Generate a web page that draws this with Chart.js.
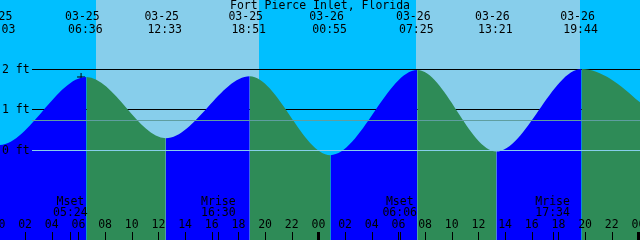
<!DOCTYPE html>
<html>
<head>
<meta charset="utf-8">
<script src="https://cdn.jsdelivr.net/npm/chart.js@4.4.1/dist/chart.umd.min.js"></script>
<style>
  html, body { margin: 0; padding: 0; background: #00BFFF; }
  #wrap { width: 640px; height: 240px; position: relative; }
</style>
</head>
<body>
<div id="wrap"><canvas id="tideChart"></canvas></div>
<script>
// tide extremes (first and last two are off the picture, they only shape the edges)
const title = 'Fort Pierce Inlet, Florida';
const tideTimes = ['03-24 17:50', '03-25 00:03', '03-25 06:36', '03-25 12:33', '03-25 18:51',
                   '03-26 00:55', '03-26 07:25', '03-26 13:21', '03-26 19:44', '03-27 06:00',
                   '03-27 12:00'];
const tideFeet = [1.78, 0.13, 1.81, 0.30, 1.83, -0.12, 1.98, -0.03, 2.01, -0.10, 1.90];
const labelFrom = 1, labelTo = 8;   // extremes that get a date/time label

const sunrise = ['03-25 07:19', '03-26 07:19'];
const sunset = ['03-25 19:33', '03-26 19:37'];

const moonNames = ['Mset', 'Mrise', 'Mset', 'Mrise'];
const moonTimes = ['03-25 05:24', '03-25 16:30', '03-26 06:06', '03-26 17:34'];

const hourLabels = ['00', '02', '04', '06', '08', '10', '12', '14', '16', '18', '20', '22',
                    '00', '02', '04', '06', '08', '10', '12', '14', '16', '18', '20', '22', '00'];

const levelLabels = ['2 ft', '1 ft', '0 ft'];
const levelFeet = [2, 1, 0];
const meanFeet = 0.74;
const nowMark = ['03-25 06:12', 1.81];

const FONT = '11.5px "DejaVu Sans Mono", monospace';

function toHours(s) {
  // 'MM-DD HH:MM' -> hours after 03-25 00:00
  const day = parseInt(s.slice(3, 5), 10) - 25;
  return day * 24 + parseInt(s.slice(6, 8), 10) + parseInt(s.slice(9, 11), 10) / 60;
}

const tidePoints = tideTimes.map((t, i) => ({ x: toHours(t), y: tideFeet[i] }));

function hLine(ctx, py, x0, x1, color) {
  ctx.strokeStyle = color;
  ctx.lineWidth = 1;
  ctx.beginPath();
  ctx.moveTo(x0, Math.floor(py) + 0.5);
  ctx.lineTo(x1, Math.floor(py) + 0.5);
  ctx.stroke();
}

const backdrop = {
  id: 'backdrop',
  beforeDraw(chart) {
    const { ctx, width, height } = chart;
    const { x, y } = chart.scales;
    ctx.save();
    ctx.fillStyle = '#00BFFF';
    ctx.fillRect(0, 0, width, height);
    ctx.fillStyle = '#87CEEB';
    sunrise.forEach((r, i) => {
      const a = Math.round(x.getPixelForValue(toHours(r)));
      const b = Math.round(x.getPixelForValue(toHours(sunset[i])));
      ctx.fillRect(a, 0, b - a, height);
    });
    // black level lines sit behind the water
    levelFeet.forEach(v => { if (v !== 0) hLine(ctx, y.getPixelForValue(v), 32, width, '#000'); });
    ctx.restore();
  },
  afterDatasetsDraw(chart) {
    const { ctx, width, height } = chart;
    const { x, y } = chart.scales;
    ctx.save();
    hLine(ctx, y.getPixelForValue(0), 32, width, '#87CEEB');
    hLine(ctx, y.getPixelForValue(meanFeet), 32, width, '#5F9EA0');

    ctx.font = FONT;
    ctx.fillStyle = '#000';
    ctx.textBaseline = 'middle';

    ctx.textAlign = 'left';
    levelLabels.forEach((l, i) => ctx.fillText(l, 2, y.getPixelForValue(levelFeet[i]) + 0.5));

    ctx.textAlign = 'center';
    ctx.fillText(title, 320, 6);
    for (let i = labelFrom; i <= labelTo; i++) {
      const px = x.getPixelForValue(toHours(tideTimes[i]));
      ctx.fillText(tideTimes[i].slice(0, 5), px - 4, 17);
      ctx.fillText(tideTimes[i].slice(6), px - 1, 30);
    }

    moonTimes.forEach((t, i) => {
      const px = x.getPixelForValue(toHours(t));
      ctx.fillText(moonNames[i], px, 202);
      ctx.fillText(t.slice(6), px, 213.5);
      ctx.fillRect(Math.round(px), 232, 1, 8);
    });

    hourLabels.forEach((l, i) => {
      const px = x.getPixelForValue(i * 2);
      ctx.fillText(l, px, 225.5);
      if (l === '00') ctx.fillRect(Math.round(px) - 1, 232, 3, 8);
      else ctx.fillRect(Math.round(px), 232, 1, 8);
    });
    ctx.restore();
  }
};

new Chart(document.getElementById('tideChart'), {
  type: 'line',
  data: {
    datasets: [{
      data: tidePoints,
      borderWidth: 0,
      borderColor: 'transparent',
      pointRadius: 0,
      cubicInterpolationMode: 'monotone',
      capBezierPoints: false,
      fill: 'start',
      backgroundColor: '#0000FF',
      segment: {
        backgroundColor: c => c.p1.parsed.y >= c.p0.parsed.y ? '#0000FF' : '#2E8B57'
      }
    }, {
      type: 'scatter',
      data: [{ x: toHours(nowMark[0]), y: nowMark[1] }],
      pointStyle: 'cross',
      pointRadius: 4,
      borderColor: '#000',
      borderWidth: 1,
      showLine: false
    }]
  },
  options: {
    responsive: true,
    maintainAspectRatio: false,
    animation: false,
    layout: { padding: 0, autoPadding: false },
    scales: {
      x: { type: 'linear', min: 0.12, max: 48.12, display: false },
      y: { min: -2.215, max: 3.711, display: false }
    },
    plugins: { legend: { display: false }, tooltip: { enabled: false } }
  },
  plugins: [backdrop]
});
</script>
</body>
</html>
